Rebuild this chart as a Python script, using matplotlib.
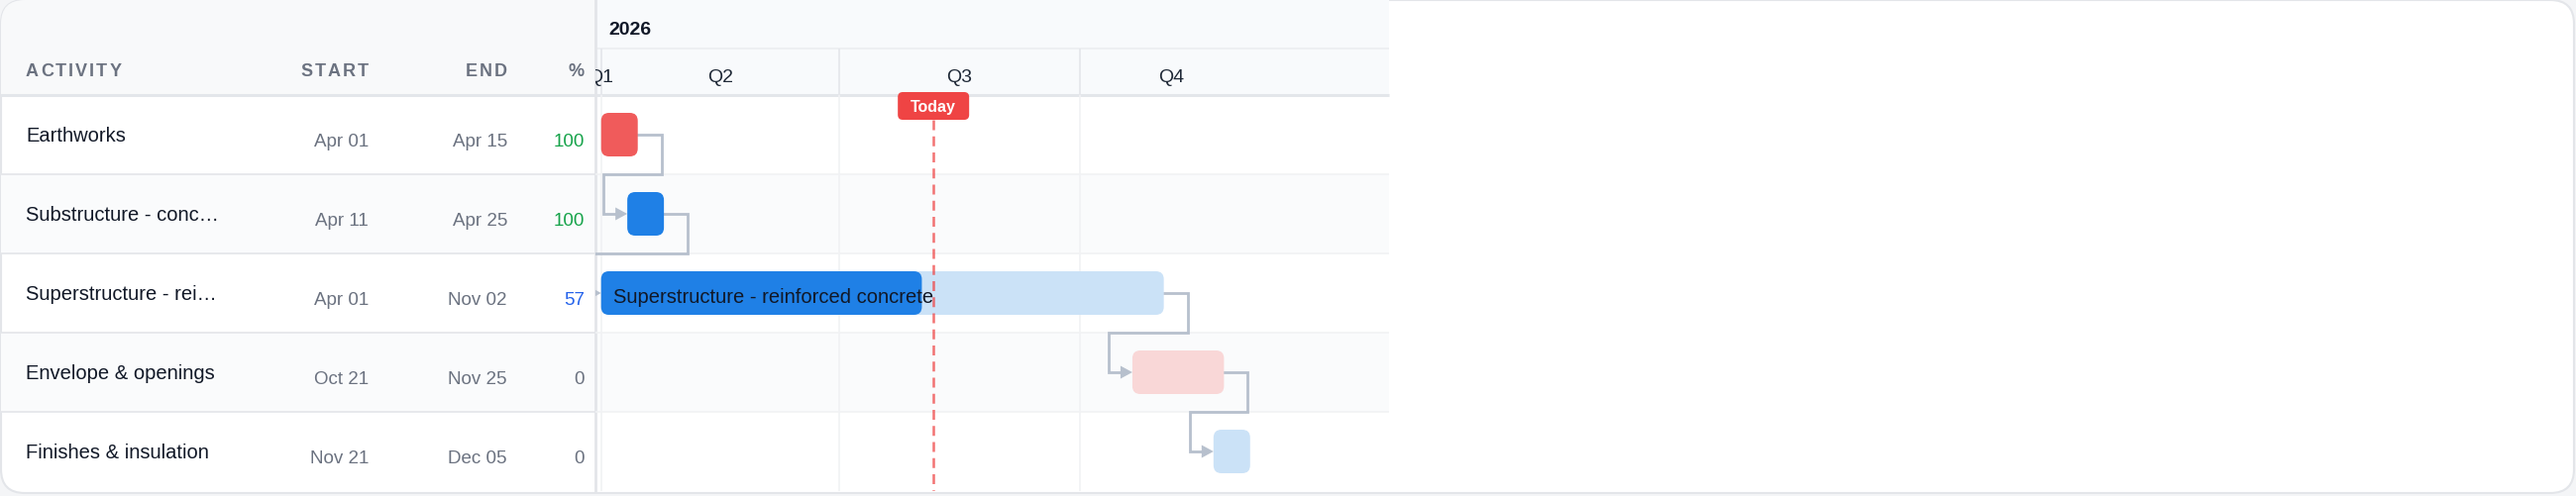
import numpy as np
import pandas as pd
import matplotlib
matplotlib.use('Agg')
from matplotlib import pyplot as plt
import matplotlib.dates as mdates
from matplotlib.patches import FancyBboxPatch, Rectangle, Polygon
from matplotlib.textpath import TextToPath
from matplotlib.font_manager import FontProperties

plt.rcParams['font.family'] = ['Liberation Sans', 'DejaVu Sans']

# data
tasks = ['Earthworks', 'Substructure - concrete', 'Superstructure - reinforced concrete',
         'Envelope & openings', 'Finishes & insulation']
table_labels = ['Earthworks', 'Substructure - conc\u2026', 'Superstructure - rei\u2026',
                'Envelope & openings', 'Finishes & insulation']
starts = pd.to_datetime(['2026-04-01', '2026-04-11', '2026-04-01', '2026-10-21', '2026-11-21'])
ends = pd.to_datetime(['2026-04-15', '2026-04-25', '2026-11-02', '2026-11-25', '2026-12-05'])
progress = [100, 100, 57, 0, 0]
links = [(0, 1), (1, 2), (2, 3), (3, 4)]
today = pd.Timestamp('2026-08-06')
year_label = '2026'
quarters = ['Q1', 'Q2', 'Q3', 'Q4']
quarter_starts = pd.to_datetime(['2026-01-01', '2026-04-01', '2026-07-01', '2026-10-01'])
quarter_ends = pd.to_datetime(['2026-04-01', '2026-07-01', '2026-10-01', '2027-01-01'])
range_start = pd.Timestamp('2026-03-31 12:00')
range_end = pd.Timestamp('2026-12-10')

# styles
solid = ['#f05b5b', '#1f80e6', '#1f80e6', '#f05b5b', '#1f80e6']
light = ['#f9d7d7', '#cbe2f7', '#cbe2f7', '#f9d7d7', '#cbe2f7']
link_col = '#b7c0cd'
view_start = pd.Timestamp('2026-03-29 20:00')
view_end = pd.Timestamp('2027-01-27 02:00')

W, H = 2600, 502
ROW0, ROWH = 97, 80
LEFT_W, CHART_R = 601, 1402

fig = plt.figure(figsize=(W / 100, H / 100), dpi=100, facecolor='#f4f5f7')

# background / table axes in pixel units
bg = fig.add_axes([0, 0, 1, 1])
bg.set_xlim(0, W)
bg.set_ylim(H, 0)
bg.axis('off')

card = FancyBboxPatch((1, 1), W - 3, H - 4, boxstyle='round,pad=0,rounding_size=24',
                      fc='white', ec='#e3e5e9', lw=1.5, zorder=0)
bg.add_patch(card)
hdr_bg = Rectangle((0, 0), LEFT_W, ROW0, fc='#f8f9fa', ec='none', zorder=1)
bg.add_patch(hdr_bg)
hdr_bg.set_clip_path(card)
bg.add_patch(Rectangle((LEFT_W, 0), CHART_R - LEFT_W, ROW0, fc='#f8fafc', ec='none', zorder=1))
for i in range(len(tasks)):
    if i % 2 == 1:
        r = Rectangle((0, ROW0 + ROWH * i), CHART_R, ROWH, fc='#fafbfc', ec='none', zorder=1)
        bg.add_patch(r)
        r.set_clip_path(card)

# table lines
bg.hlines([ROW0 + ROWH * i for i in range(1, len(tasks))], 0, LEFT_W, color='#e5e7eb', lw=1.3, zorder=2)
bg.hlines(ROW0, 0, CHART_R, color='#e3e6ea', lw=2.2, zorder=2)
bg.hlines(50, LEFT_W, CHART_R, color='#eceef2', lw=1.3, zorder=2)
bg.vlines(LEFT_W, 0, H - 4, color='#e3e5e9', lw=2, zorder=3)

t2p = TextToPath()


def spaced(ax, x, y, s, size, gap, ha='left', **kw):
    fp = FontProperties(family='Liberation Sans', weight='bold', size=size)
    ws = [t2p.get_text_width_height_descent(c, fp, ismath=False)[0] * 100 / 72 for c in s]
    total = sum(ws) + gap * (len(s) - 1)
    x0 = x - total if ha == 'right' else x
    for c, w in zip(s, ws):
        ax.text(x0, y, c, fontproperties=fp, ha='left', va='baseline', **kw)
        x0 += w + gap


head_col = '#6b7280'
spaced(bg, 26, 77, 'ACTIVITY', 13, 2, color=head_col, zorder=4)
spaced(bg, 372, 77, 'START', 13, 2, ha='right', color=head_col, zorder=4)
spaced(bg, 512, 77, 'END', 13, 2, ha='right', color=head_col, zorder=4)
spaced(bg, 590, 77, '%', 13, 2, ha='right', color=head_col, zorder=4)

for i in range(len(tasks)):
    yb = ROW0 + ROWH * i
    bg.text(26, yb + 46, table_labels[i], fontsize=14.5, color='#111827', va='baseline', zorder=4)
    bg.text(372, yb + 51, starts[i].strftime('%b %d'), fontsize=13.5, color=head_col,
            ha='right', va='baseline', zorder=4)
    bg.text(512, yb + 51, ends[i].strftime('%b %d'), fontsize=13.5, color=head_col,
            ha='right', va='baseline', zorder=4)
    p = progress[i]
    pc = '#16a34a' if p == 100 else ('#2563eb' if p > 0 else head_col)
    bg.text(590, yb + 51, str(p), fontsize=13.5, color=pc, ha='right', va='baseline', zorder=4)

bg.text(614, 35, year_label, fontsize=14, fontweight='bold', color='#111827', va='baseline', zorder=4)

x0, x1 = mdates.date2num(view_start), mdates.date2num(view_end)
pos_w = (CHART_R - LEFT_W) / W

# timeline header axes
hx = fig.add_axes([LEFT_W / W, (H - ROW0) / H, pos_w, ROW0 / H])
hx.set_xlim(x0, x1)
hx.set_ylim(ROW0, 0)
hx.axis('off')
hx.patch.set_alpha(0)
hx.vlines(mdates.date2num(quarter_starts), 50, ROW0, color='#e6e8ec', lw=1.3)
d0 = mdates.date2num(range_start)
d1 = mdates.date2num(range_end)
for q, qs, qe in zip(quarters, mdates.date2num(quarter_starts), mdates.date2num(quarter_ends)):
    a, b = max(qs, d0), min(qe, d1)
    if b > a:
        hx.text((a + b) / 2, 83, q, fontsize=14, color='#1f2937', ha='center', va='baseline',
                clip_on=True)

# chart body axes
ax = fig.add_axes([LEFT_W / W, 5 / H, pos_w, len(tasks) * ROWH / H])
ax.set_xlim(x0, x1)
ax.set_ylim(len(tasks), 0)
ax.axis('off')
ax.patch.set_alpha(0)

ppd = ax.transData.transform((x0 + 1, 0))[0] - ax.transData.transform((x0, 0))[0]
asp = ppd / ROWH

ax.hlines(range(1, len(tasks)), x0, x1, color='#f1f2f4', lw=1.2, zorder=1)
ax.vlines(mdates.date2num(quarter_starts), 0, len(tasks), color='#f1f2f4', lw=1.2, zorder=1)


def rbar(xs, w, yc, h, color, r_px, z, clip=True):
    p = FancyBboxPatch((xs, yc - h / 2), w, h, boxstyle=f'round,pad=0,rounding_size={r_px / ppd}',
                       mutation_aspect=asp, fc=color, ec='none', zorder=z, clip_on=clip)
    ax.add_patch(p)
    return p


bar_h = 44 / ROWH
s_num = mdates.date2num(starts)
e_num = mdates.date2num(ends)
for i in range(len(tasks)):
    yc = i + 0.5
    dur = e_num[i] - s_num[i]
    if progress[i] >= 100:
        rbar(s_num[i], dur, yc, bar_h, solid[i], 8, 3)
    else:
        rbar(s_num[i], dur, yc, bar_h, light[i], 8, 3)
        if progress[i] > 0:
            rbar(s_num[i], dur * progress[i] / 100, yc, bar_h, solid[i], 8, 4)
    if dur > 60:
        ax.text(s_num[i] + 12 / ppd, yc + 9 / ROWH, tasks[i], fontsize=14.5, color='#111827',
                va='baseline', zorder=6)

# dependency links
off = 24 / ppd
hl, hh = 12 / ppd, 6.5 / ROWH
for a, b in links:
    ya, yb = a + 0.5, b + 0.5
    xs = [e_num[a], e_num[a] + off, e_num[a] + off, s_num[b] - off, s_num[b] - off, s_num[b] - hl]
    ys = [ya, ya, a + 1, a + 1, yb, yb]
    ax.plot(xs, ys, color=link_col, lw=2, solid_joinstyle='miter', zorder=2)
    ax.add_patch(Polygon([(s_num[b] - hl, yb - hh), (s_num[b], yb), (s_num[b] - hl, yb + hh)],
                         closed=True, fc=link_col, ec='none', zorder=2))

# today marker
t = mdates.date2num(today)
ax.vlines(t, 25 / ROWH, len(tasks), color='#ef4444', alpha=0.75, lw=1.8,
          linestyles=(0, (4, 2.5)), zorder=5)
rbar(t - 36 / ppd, 72 / ppd, (108 - ROW0) / ROWH, 28 / ROWH, '#ef4444', 5, 9, clip=False)
ax.text(t, (113 - ROW0) / ROWH, 'Today', fontsize=11.5, fontweight='bold', color='white',
        ha='center', va='baseline', zorder=10, clip_on=False)

fig.savefig('out.png', dpi=100, facecolor=fig.get_facecolor())
